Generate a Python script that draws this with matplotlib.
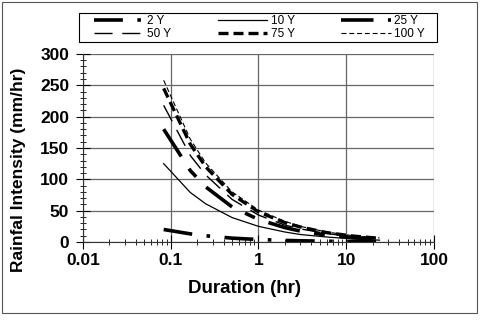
import numpy as np
import matplotlib.pyplot as plt
from matplotlib.ticker import MultipleLocator, LogLocator, NullFormatter
from matplotlib.patches import Rectangle

plt.rcParams['font.family'] = ['Liberation Sans', 'DejaVu Sans']

# durations (hr) and intensities (mm/hr)
duration = [0.083, 0.167, 0.25, 0.5, 1, 2, 3, 6, 12, 24]
i_2y = [20, 13, 10, 6.2, 4, 2.6, 2, 1.3, 0.8, 0.5]
i_10y = [125, 79, 61, 39, 25, 16, 12, 8, 5, 3]
i_25y = [180, 114, 88, 56, 36, 23, 17.5, 11, 7, 4.5]
i_50y = [218, 138, 107, 68, 43, 27, 21, 13.5, 8.5, 5.5]
i_75y = [245, 156, 120, 76, 48, 31, 24, 15, 9.5, 6]
i_100y = [258, 164, 126, 80, 51, 33, 25, 16, 10, 6.5]

labels = ['2 Y', '10 Y', '25 Y', '50 Y', '75 Y', '100 Y']

fig = plt.figure(figsize=(4.8, 3.21), dpi=100)
ax = fig.add_axes([0.173, 0.246, 0.731, 0.586])

l2, = ax.plot(duration, i_2y, color='black', lw=2.6, dashes=(8, 4, 1, 4))
l10, = ax.plot(duration, i_10y, color='black', lw=0.9)
l25, = ax.plot(duration, i_25y, color='black', lw=2.6, dashes=(9, 4, 3, 4))
l50, = ax.plot(duration, i_50y, color='black', lw=1.0, dashes=(13, 7))
l75, = ax.plot(duration, i_75y, color='black', lw=2.4, dashes=(3, 1.5))
l100, = ax.plot(duration, i_100y, color='black', lw=0.8, dashes=(4.5, 2.5))

ax.set_xscale('log')
ax.set_xlim(0.01, 100)
ax.set_ylim(0, 300)
ax.set_xticks([0.01, 0.1, 1, 10, 100])
ax.set_xticklabels(['0.01', '0.1', '1', '10', '100'])
ax.xaxis.set_minor_locator(LogLocator(base=10, subs=np.arange(2, 10)))
ax.xaxis.set_minor_formatter(NullFormatter())
ax.yaxis.set_major_locator(MultipleLocator(50))
ax.yaxis.set_minor_locator(MultipleLocator(10))

ax.grid(True, which='major', color='#666666', lw=0.9)
ax.tick_params(which='major', direction='inout', length=10, width=0.8, labelsize=12.5, pad=3)
ax.tick_params(axis='y', which='major', pad=5)
ax.tick_params(which='minor', direction='inout', length=5, width=0.6)
ax.tick_params(axis='x', which='both', top=False)
ax.tick_params(axis='y', which='both', right=False)
for lab in ax.get_xticklabels() + ax.get_yticklabels():
    lab.set_fontweight('bold')
for side in ['top', 'right']:
    ax.spines[side].set_visible(False)
for side in ['left', 'bottom']:
    ax.spines[side].set_color('#333333')

ax.set_xlabel('Duration (hr)', fontsize=13.5, fontweight='bold')
ax.xaxis.set_label_coords(0.46, -0.2)
ax.set_ylabel('Rainfal Intensity (mm/hr)', fontsize=12.5, fontweight='bold')
ax.yaxis.set_label_coords(-0.163, 0.383)

# ncol fills column-wise, so reorder to get rows 2/10/25 and 50/75/100
handles = [l2, l50, l10, l75, l25, l100]
leg_labels = [labels[0], labels[3], labels[1], labels[4], labels[2], labels[5]]
leg = fig.legend(handles, leg_labels, ncol=3, loc='center',
                 bbox_to_anchor=(0.196, 0.869, 0.689, 0.09), mode='expand',
                 fontsize=8.5, frameon=False,
                 handlelength=4.2, handletextpad=0.3, columnspacing=3.0,
                 borderpad=0, labelspacing=0.1, borderaxespad=0)

fig.patches.append(Rectangle((0.165, 0.869), 0.746, 0.09, transform=fig.transFigure,
                             fill=False, edgecolor='black', lw=0.8))
fig.patches.append(Rectangle((0.004, 0.025), 0.99, 0.97, transform=fig.transFigure,
                             fill=False, edgecolor='#555555', lw=0.8))

fig.savefig('out.png', dpi=100)
